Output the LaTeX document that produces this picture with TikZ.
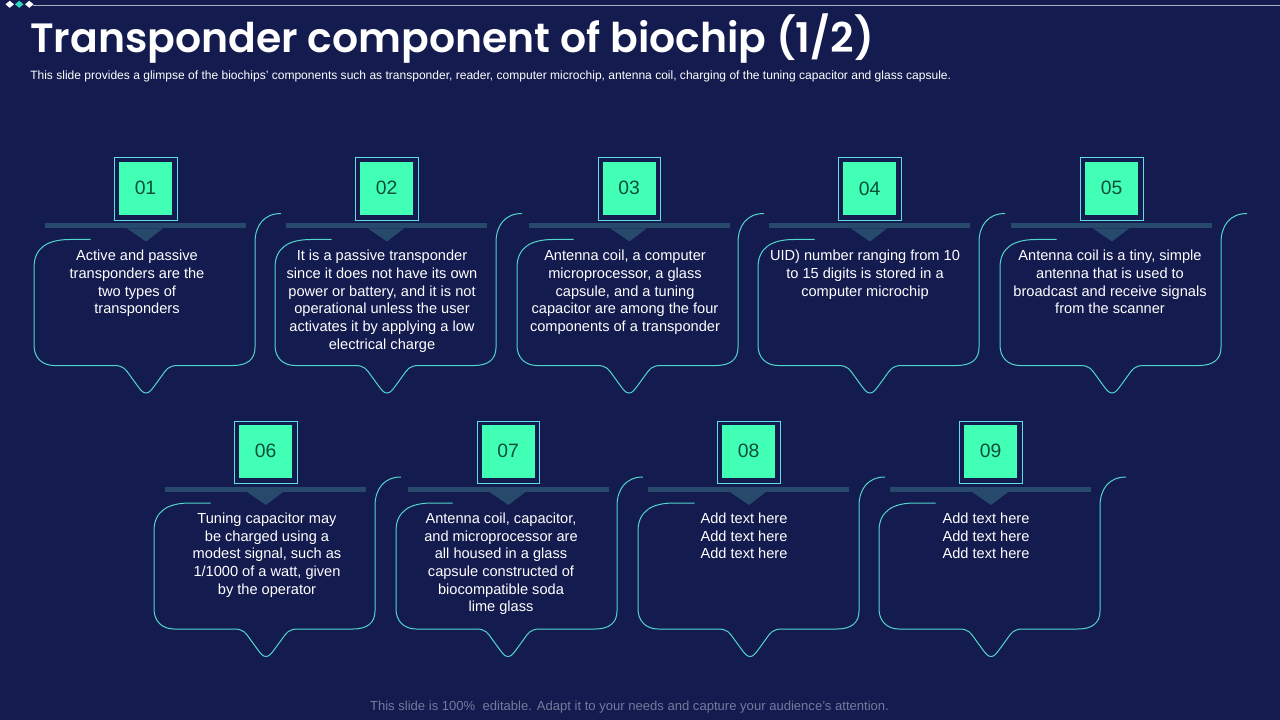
\documentclass[tikz,border=0pt]{standalone}
\usepackage{fontspec}
\setmainfont{Liberation Sans}
\newfontfamily\titlefont{Poppins}[UprightFont=* SemiBold,BoldFont=* SemiBold]
\definecolor{bgc}{HTML}{131B4F}
\definecolor{mint}{HTML}{42FFB6}
\definecolor{numc}{HTML}{0B4F3C}
\definecolor{barc}{HTML}{26496C}
\definecolor{linec}{HTML}{52D6CC}
\definecolor{framec}{HTML}{5FE0E0}
\definecolor{footc}{HTML}{747A9C}
\definecolor{dia}{HTML}{2FD6C0}
\tikzset{
  x=0.75pt,y=-0.75pt,
  numbox/.style={fill=mint,minimum width=39.75pt,minimum height=39.75pt,inner sep=0pt,text=numc,font=\fontsize{14.5}{16}\selectfont},
  framebox/.style={draw=framec,line width=0.7pt},
  barline/.style={fill=barc},
  bubble/.style={draw=linec,line width=0.75pt},
  cardtext/.style={text=white,align=center,anchor=north,font=\fontsize{10.95}{13.25}\selectfont,inner sep=0pt},
}
% #1 name, #2 left x of bubble, #3 y shift, #4 number, #5 text centre x, #6 text, #7 horizontal nudge of square and bar, #8 y of number box, #9 y of text
\newcommand{\cardshape}[9]{
  \begin{scope}[shift={(#2,#3)}]
    \begin{scope}[shift={(#7,0)}]
      \draw[framebox] (80.5,0) rectangle (143,62.5);
      \node[numbox] (#1num) at (111.5,#8) {\raisebox{0.75pt}{#4}};
      \fill[barline] (11,66) rectangle (212,71);
      \fill[barline] (93,71) -- (129,71) -- (112,84) -- cycle;
    \end{scope}
    \draw[bubble] (56.5,82) -- (36,82) .. controls (14,82) and (0,90) .. (0,110)
      -- (0,188) .. controls (0,200) and (8,208) .. (20,208)
      -- (80,208) .. controls (90,208) and (92,212.5) .. (96,218)
      -- (104,229) .. controls (107,233) and (109,235.5) .. (112,235.5)
      .. controls (115,235.5) and (117,233) .. (120,229)
      -- (128,218) .. controls (132,212.5) and (134,208) .. (144,208)
      -- (199,208) .. controls (213,208) and (221,202) .. (221,190)
      -- (221,85) .. controls (221,68) and (230,56) .. (247,56);
    \node[cardtext] (#1txt) at (#5,#9) {#6};
  \end{scope}
}
\begin{document}
\begin{tikzpicture}
\useasboundingbox (0,0) rectangle (1280,720);
\fill[bgc] (0,0) rectangle (1280,720);
\draw[color=footc!60!white,line width=0.75pt] (33,5.5) -- (1280,5.5);
\fill[white] (5.5,4.3) -- (9.7,0.8) -- (14,4.3) -- (9.7,7.8) -- cycle;
\fill[dia] (15,4.3) -- (19.3,0.8) -- (23.5,4.3) -- (19.3,7.8) -- cycle;
\fill[white] (25,4.3) -- (29.3,0.8) -- (33.5,4.3) -- (29.3,7.8) -- cycle;
\node[anchor=west,inner sep=0pt,text=white,font=\titlefont\fontsize{30.7}{38}\selectfont] (title) at (30,39) {Transponder component of biochip (1/2)};
\node[anchor=west,inner sep=0pt,text=white,font=\fontsize{9.03}{10}\selectfont] (sub) at (30,76) {This slide provides a glimpse of the biochips’ components such as transponder, reader, computer microchip, antenna coil, charging of the tuning capacitor and glass capsule.};
\node[anchor=center,inner sep=0pt,text=footc,font=\fontsize{9.8}{12}\selectfont] (foot) at (629.5,707.5) {This slide is 100\%\ \ editable. Adapt it to your needs and capture your audience's attention.};

\cardshape{a}{34}{157.5}{01}{103}{Active and passive\\transponders are the\\two types of\\transponders}{0}{31}{92.5}
\cardshape{b}{275}{157.5}{02}{107}{It is a passive transponder\\since it does not have its own\\power or battery, and it is not\\operational unless the user\\activates it by applying a low\\electrical charge}{0}{31}{92.5}
\cardshape{c}{517}{157.5}{03}{108}{Antenna coil, a computer\\microprocessor, a glass\\capsule, and a tuning\\capacitor are among the four\\components of a transponder}{0.5}{31}{92.5}
\cardshape{d}{758}{157.5}{04}{107}{UID) number ranging from 10\\to 15 digits is stored in a\\computer microchip}{0}{31.5}{92.5}
\cardshape{e}{1000}{157.5}{05}{110}{Antenna coil is a tiny, simple\\antenna that is used to\\broadcast and receive signals\\from the scanner}{0}{31}{92.5}
\cardshape{f}{154}{421}{06}{113}{Tuning capacitor may\\be charged using a\\modest signal, such as\\1/1000 of a watt, given\\by the operator}{0}{30}{91.5}
\cardshape{g}{396}{421}{07}{105}{Antenna coil, capacitor,\\and microprocessor are\\all housed in a glass\\capsule constructed of\\biocompatible soda\\lime glass}{0.5}{30}{91.5}
\cardshape{h}{638}{421}{08}{106}{Add text here\\Add text here\\Add text here}{-1}{30}{91.5}
\cardshape{i}{879}{421}{09}{107}{Add text here\\Add text here\\Add text here}{0}{30}{91.5}
\end{tikzpicture}
\end{document}
